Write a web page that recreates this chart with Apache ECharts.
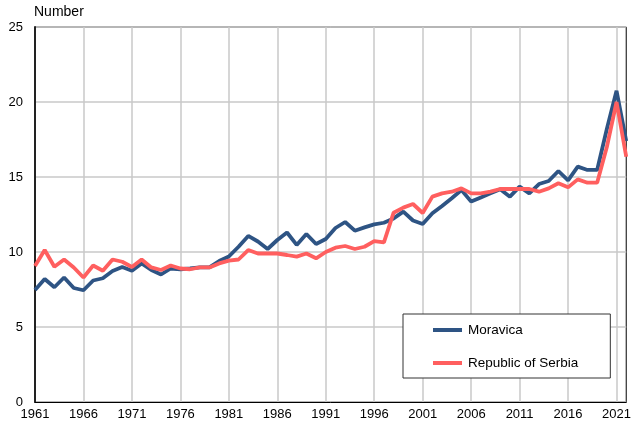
<!DOCTYPE html>
<html>
<head>
<meta charset="utf-8">
<script src="https://cdn.jsdelivr.net/npm/echarts@6/dist/echarts.min.js"></script>
<style>
html,body{margin:0;padding:0;background:#fff;}
#chart{width:634px;height:426px;}
</style>
</head>
<body>
<div id="chart"></div>
<script>
var years = [];
for (var y = 1961; y <= 2022; y++) years.push(String(y));

var moravica = [
  7.47, 8.2, 7.65, 8.3, 7.6, 7.45, 8.1, 8.25, 8.73, 9.0,
  8.75, 9.24, 8.8, 8.5, 8.9, 8.85, 8.9, 8.97, 8.97, 9.4,
  9.7, 10.35, 11.07, 10.7, 10.2, 10.8, 11.3, 10.47, 11.2, 10.53,
  10.87, 11.6, 12.0, 11.42, 11.64, 11.84, 11.95, 12.24, 12.69, 12.1,
  11.87, 12.58, 13.07, 13.58, 14.13, 13.36, 13.64, 13.91, 14.18, 13.69,
  14.36, 13.91, 14.53, 14.73, 15.4, 14.78, 15.69, 15.47, 15.47, 18.2,
  20.75, 17.4
];
var serbia = [
  9.07, 10.13, 9.02, 9.5, 8.97, 8.3, 9.1, 8.75, 9.5, 9.35,
  9.0, 9.5, 8.97, 8.8, 9.1, 8.9, 8.85, 8.97, 8.97, 9.24,
  9.42, 9.5, 10.13, 9.9, 9.9, 9.9, 9.8, 9.69, 9.9, 9.58,
  10.0, 10.29, 10.4, 10.2, 10.35, 10.73, 10.64, 12.62, 12.96, 13.2,
  12.6, 13.69, 13.91, 14.02, 14.24, 13.91, 13.91, 14.02, 14.2, 14.2,
  14.2, 14.2, 14.02, 14.24, 14.58, 14.31, 14.84, 14.62, 14.62, 17.0,
  20.0, 16.35
];
var seriesNames = ['Moravica', 'Republic of Serbia'];
var yAxisTitle = 'Number';

var chart = echarts.init(document.getElementById('chart'));
var font = 'Liberation Sans, Arial, sans-serif';
chart.setOption({
  animation: false,
  backgroundColor: '#fff',
  textStyle: {fontFamily: font},
  grid: {left: 35, right: 4, top: 27, bottom: 24, show: true, borderColor: '#000', borderWidth: 1, backgroundColor: 'transparent'},
  graphic: [{
    type: 'text', left: 34, top: 5,
    style: {text: yAxisTitle, fontSize: 14, fontFamily: font, fill: '#000'}
  }],
  legend: {
    orient: 'vertical',
    left: 403, top: 314,
    padding: [9, 32, 8, 30],
    itemGap: 19,
    itemWidth: 29, itemHeight: 4,
    icon: 'rect',
    borderColor: '#333', borderWidth: 1,
    backgroundColor: '#fff',
    textStyle: {fontSize: 13.5, color: '#000', fontFamily: font, padding: [0, 0, 0, 1]},
    data: seriesNames
  },
  xAxis: {
    type: 'category',
    data: years,
    boundaryGap: false,
    axisLine: {lineStyle: {color: '#000', width: 1}},
    axisTick: {show: false},
    axisLabel: {interval: 4, color: '#000', fontSize: 13, fontFamily: font, margin: 6},
    splitLine: {show: true, interval: 4, lineStyle: {color: '#c8c8c8', width: 1.5}}
  },
  yAxis: {
    type: 'value',
    min: 0, max: 25, interval: 5,
    axisLine: {show: true, lineStyle: {color: '#222', width: 2}},
    axisTick: {show: false},
    axisLabel: {color: '#000', fontSize: 13, fontFamily: font, margin: 12},
    splitLine: {show: true, lineStyle: {color: '#c8c8c8', width: 1.5}}
  },
  series: [
    {name: seriesNames[0], type: 'line', data: moravica, showSymbol: false, symbol: 'none',
     lineStyle: {color: '#2E5484', width: 3.8}, itemStyle: {color: '#2E5484'}, z: 3},
    {name: seriesNames[1], type: 'line', data: serbia, showSymbol: false, symbol: 'none',
     lineStyle: {color: '#FF5F5F', width: 3.8}, itemStyle: {color: '#FF5F5F'}, z: 4}
  ]
});
</script>
</body>
</html>
